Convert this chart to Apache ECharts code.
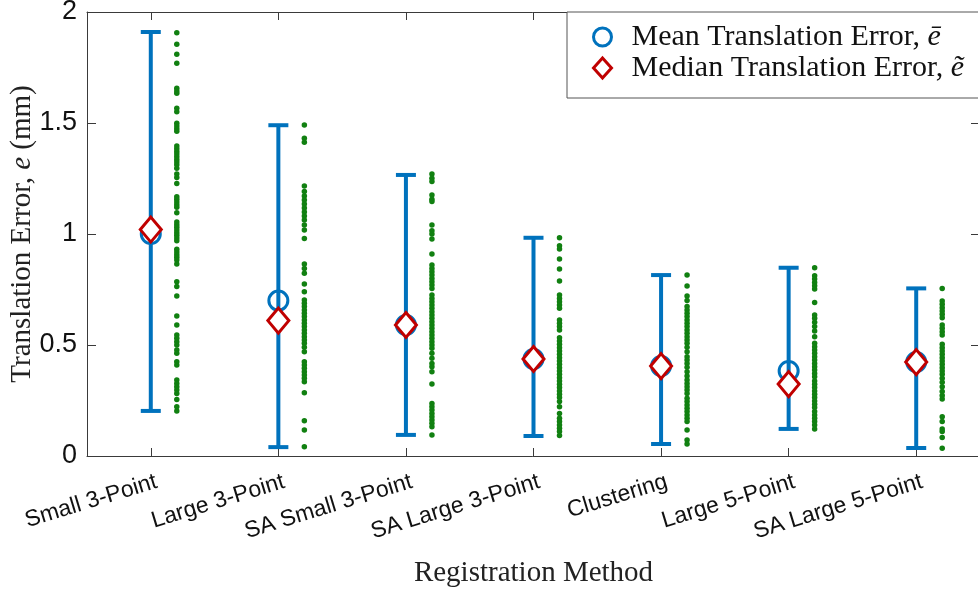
<!DOCTYPE html>
<html>
<head>
<meta charset="utf-8">
<script src="https://cdn.jsdelivr.net/npm/echarts@6/dist/echarts.min.js"></script>
<style>html,body{margin:0;padding:0;background:#fff;}#c{width:978px;height:593px;}</style>
</head>
<body>
<div id="c"></div>
<script>
const categories = ['Small 3-Point','Large 3-Point','SA Small 3-Point','SA Large 3-Point','Clustering','Large 5-Point','SA Large 5-Point'];
const meanVals   = [1.00, 0.70, 0.59, 0.437, 0.405, 0.383, 0.423];
const medianVals = [1.02, 0.61, 0.59, 0.437, 0.405, 0.324, 0.423];
const errLow     = [0.203, 0.04, 0.095, 0.09, 0.054, 0.122, 0.036];
const errHigh    = [1.91, 1.49, 1.266, 0.983, 0.815, 0.848, 0.755];
const yTicks = [0, 0.5, 1, 1.5, 2];

const dots1 = [1.907,1.855,1.81,1.769,1.656,1.644,1.634,1.566,1.551,1.499,1.486,1.474,1.463,1.396,1.384,1.372,1.36,1.348,1.336,1.324,1.312,1.296,1.27,1.255,1.228,1.168,1.156,1.144,1.132,1.12,1.096,1.054,1.042,1.03,1.018,1.006,0.994,0.982,0.97,0.931,0.919,0.907,0.895,0.883,0.865,0.785,0.763,0.721,0.631,0.59,0.545,0.53,0.515,0.5,0.477,0.463,0.425,0.41,0.342,0.327,0.312,0.297,0.282,0.255,0.222,0.203];
const dots2 = [1.491,1.431,1.413,1.216,1.191,1.171,1.153,1.135,1.117,1.099,1.081,1.063,1.041,1.018,0.98,0.865,0.845,0.823,0.775,0.74,0.703,0.688,0.673,0.658,0.643,0.628,0.613,0.598,0.583,0.568,0.553,0.537,0.523,0.508,0.49,0.47,0.425,0.41,0.395,0.38,0.365,0.35,0.335,0.285,0.159,0.117,0.042];
const dots3 = [1.27,1.251,1.236,1.176,1.156,1.146,1.041,1.015,1.0,0.977,0.91,0.86,0.845,0.83,0.815,0.8,0.785,0.77,0.755,0.725,0.71,0.695,0.68,0.665,0.65,0.635,0.62,0.605,0.59,0.575,0.56,0.545,0.53,0.515,0.5,0.485,0.463,0.44,0.417,0.402,0.38,0.324,0.237,0.222,0.207,0.192,0.177,0.162,0.147,0.132,0.095];
const dots4 = [0.983,0.947,0.932,0.887,0.842,0.788,0.725,0.71,0.695,0.68,0.665,0.613,0.598,0.583,0.568,0.533,0.518,0.503,0.488,0.473,0.458,0.443,0.428,0.413,0.398,0.383,0.368,0.353,0.338,0.323,0.308,0.293,0.278,0.263,0.245,0.222,0.192,0.17,0.155,0.14,0.125,0.11,0.092];
const dots5 = [0.815,0.766,0.721,0.7,0.673,0.658,0.643,0.628,0.613,0.598,0.583,0.568,0.553,0.537,0.523,0.508,0.49,0.47,0.447,0.432,0.417,0.4,0.38,0.36,0.342,0.327,0.312,0.297,0.282,0.26,0.245,0.23,0.215,0.2,0.185,0.17,0.155,0.117,0.072,0.054];
const dots6 = [0.848,0.812,0.797,0.782,0.767,0.752,0.692,0.635,0.62,0.602,0.583,0.563,0.537,0.508,0.492,0.477,0.463,0.447,0.432,0.417,0.402,0.387,0.372,0.357,0.338,0.323,0.308,0.293,0.278,0.263,0.248,0.233,0.218,0.2,0.185,0.17,0.155,0.14,0.122];
const dots7 = [0.755,0.698,0.683,0.668,0.653,0.638,0.623,0.59,0.575,0.56,0.545,0.503,0.488,0.473,0.458,0.443,0.428,0.413,0.398,0.383,0.368,0.35,0.332,0.312,0.29,0.272,0.257,0.177,0.155,0.122,0.11,0.083,0.035];
const dotGroups = [dots1, dots2, dots3, dots4, dots5, dots6, dots7];

const BLUE = '#0072BD', RED = '#C00000', GREEN = '#118011', AX = '#3a3a3a';
const MEAN_NAME = 'Mean Translation Error, ē';
const MED_NAME = 'Median Translation Error, ẽ';

const dotData = [];
dotGroups.forEach((g, i) => g.forEach(v => dotData.push([i, v])));
const errData = categories.map((c, i) => [i, errLow[i], errHigh[i]]);

const chart = echarts.init(document.getElementById('c'), null, {renderer: 'canvas'});
const serif = '"Liberation Serif", "DejaVu Serif", serif';
const sans = '"Liberation Sans", Arial, sans-serif';

chart.setOption({
  animation: false,
  backgroundColor: '#fff',
  grid: {left: 87, top: 12, right: -2, bottom: 137, containLabel: false, outerBoundsMode: 'none'},
  legend: {
    orient: 'vertical', left: 567, top: 12,
    padding: [10, 30, 15, 25],
    backgroundColor: '#fff', borderColor: '#555', borderWidth: 1,
    itemWidth: 18, itemHeight: 20, itemGap: 1,
    selectedMode: false,
    textStyle: {fontFamily: serif, fontSize: 30, color: '#111', lineHeight: 30,
      rich: {
        s: {width: 15},
        n: {fontFamily: serif, fontSize: 30, color: '#111'},
        i: {fontFamily: serif, fontSize: 30, fontStyle: 'italic', color: '#111'}}},
    formatter: name => {
      const idx = name.lastIndexOf(', ');
      return '{s|}{n|' + name.slice(0, idx + 2) + '}{i|' + name.slice(idx + 2) + '}';
    },
    data: [
      {name: MEAN_NAME, icon: 'circle', itemStyle: {color: 'rgba(0,0,0,0)', borderColor: BLUE, borderWidth: 3}},
      {name: MED_NAME, icon: 'diamond', itemStyle: {color: '#fff', borderColor: RED, borderWidth: 3}}
    ]
  },
  xAxis: [{
    type: 'category', data: categories, position: 'bottom',
    axisLine: {onZero: false, lineStyle: {color: AX, width: 1}},
    axisTick: {show: true, inside: true, alignWithLabel: true, length: 8, lineStyle: {color: AX}},
    axisLabel: {rotate: 17, margin: 27, fontFamily: sans, fontSize: 23, color: '#111', interval: 0,
      padding: [0, -6, 0, 0]},
    name: 'Registration Method', nameLocation: 'middle', nameGap: 103, nameMoveOverlap: false,
    nameTextStyle: {fontFamily: serif, fontSize: 29, color: '#222'},
    splitLine: {show: false}
  }, {
    type: 'category', data: categories, position: 'top',
    axisLine: {onZero: false, lineStyle: {color: AX, width: 1}},
    axisTick: {show: true, inside: true, alignWithLabel: true, length: 8, lineStyle: {color: AX}},
    axisLabel: {show: false}, splitLine: {show: false}
  }],
  yAxis: [{
    type: 'value', min: 0, max: 2, interval: 0.5, position: 'left',
    axisLine: {show: true, onZero: false, lineStyle: {color: AX, width: 1}},
    axisTick: {show: true, inside: true, length: 9, lineStyle: {color: AX}},
    axisLabel: {margin: 10, fontFamily: sans, fontSize: 27, color: '#111',
      formatter: v => yTicks.includes(v) ? String(v) : ''},
    splitLine: {show: false},
    name: '{n|Translation Error, }{i|e}{n| (mm)}', nameLocation: 'middle', nameGap: 50, nameMoveOverlap: false,
    nameTextStyle: {fontFamily: serif, fontSize: 29, color: '#222',
      rich: {n: {fontFamily: serif, fontSize: 29, color: '#222'}, i: {fontFamily: serif, fontSize: 29, fontStyle: 'italic', color: '#222'}}}
  }, {
    type: 'value', min: 0, max: 2, interval: 0.5, position: 'right',
    axisLine: {show: true, onZero: false, lineStyle: {color: AX, width: 1}},
    axisTick: {show: true, inside: true, length: 9, lineStyle: {color: AX}},
    axisLabel: {show: false}, splitLine: {show: false}
  }],
  series: [
    {
      type: 'scatter', name: 'samples', data: dotData,
      symbol: 'circle', symbolSize: 5.5, symbolOffset: [26, 0],
      itemStyle: {color: GREEN, opacity: 1}, z: 2
    },
    {
      type: 'custom', name: 'range', data: errData, z: 3,
      renderItem: (params, api) => {
        const x = api.value(0);
        const lo = api.coord([x, api.value(1)]);
        const hi = api.coord([x, api.value(2)]);
        const half = 10;
        const st = {stroke: BLUE, lineWidth: 4, fill: null};
        return {type: 'group', children: [
          {type: 'line', shape: {x1: lo[0], y1: lo[1], x2: hi[0], y2: hi[1]}, style: st},
          {type: 'line', shape: {x1: lo[0] - half, y1: lo[1], x2: lo[0] + half, y2: lo[1]}, style: st},
          {type: 'line', shape: {x1: hi[0] - half, y1: hi[1], x2: hi[0] + half, y2: hi[1]}, style: st}
        ]};
      }
    },
    {
      type: 'scatter', name: MEAN_NAME, data: meanVals.map((v, i) => [i, v]),
      symbol: 'circle', symbolSize: 19, z: 4,
      itemStyle: {color: 'rgba(0,0,0,0)', borderColor: BLUE, borderWidth: 3, opacity: 1}
    },
    {
      type: 'scatter', name: MED_NAME, data: medianVals.map((v, i) => [i, v]),
      symbol: 'diamond', symbolSize: [21, 25], z: 5,
      itemStyle: {color: '#fff', borderColor: RED, borderWidth: 3, opacity: 1}
    }
  ]
});
</script>
</body>
</html>
